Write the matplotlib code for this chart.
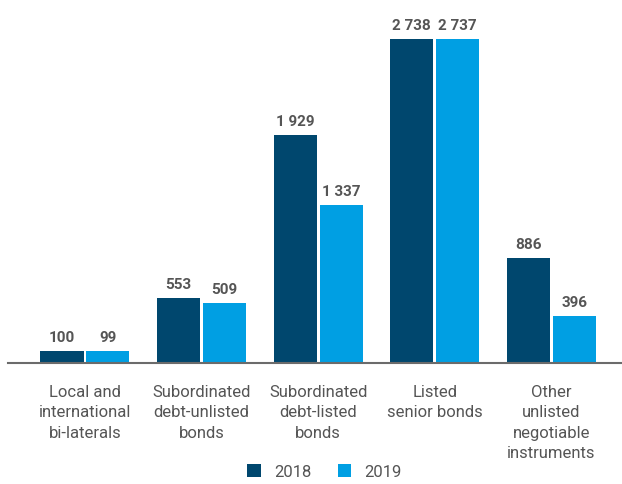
import matplotlib
matplotlib.use("Agg")
import matplotlib.pyplot as plt
import numpy as np

categories = ["Local and\ninternational\nbi-laterals",
              "Subordinated\ndebt-unlisted\nbonds",
              "Subordinated\ndebt-listed\nbonds",
              "Listed\nsenior bonds",
              "Other\nunlisted\nnegotiable\ninstruments"]
values_2018 = [100, 553, 1929, 2738, 886]
values_2019 = [99, 509, 1337, 2737, 396]
series_names = ["2018", "2019"]
colors = ["#00476E", "#009FE3"]
text_color = "#555555"

plt.rcParams['font.family'] = ['Roboto', 'DejaVu Sans']

W, H = 622, 485
fig = plt.figure(figsize=(W/100, H/100), dpi=100)
ax_left, ax_right = 8, 622
ax_bottom, ax_top = 364, 10
ax = fig.add_axes([ax_left/W, (H-ax_bottom)/H, (ax_right-ax_left)/W, (ax_bottom-ax_top)/H])

x = np.arange(len(categories))
width = 0.369
offset = 0.197
px_per_unit = 324/2738
ax.set_ylim(0, (ax_bottom-ax_top)/px_per_unit)
ax.set_xlim(-0.66, 4.605)

def fmt(v):
    return f"{v:,}".replace(",", " ")

for vals, off, col, name in zip([values_2018, values_2019], [-offset, offset], colors, series_names):
    bars = ax.bar(x + off, vals, width, color=col, label=name)
    for xi, v in zip(x + off, vals):
        ax.annotate(fmt(v), (xi, v), xytext=(0, 5), textcoords="offset points",
                    ha="center", va="bottom", fontsize=11, fontweight="bold",
                    color=text_color, annotation_clip=False)

for s in ["top", "right", "left"]:
    ax.spines[s].set_visible(False)
ax.spines["bottom"].set_color("#6b6b6b")
ax.spines["bottom"].set_linewidth(1.5)
ax.set_yticks([])
ax.set_xticks(x)
ax.set_xticklabels(categories, fontsize=12, color=text_color, linespacing=1.45)
ax.tick_params(axis="x", length=0, pad=15)

fig.legend(loc="lower center", bbox_to_anchor=(0.522, 0.003), ncol=2, frameon=False,
           fontsize=12, labelcolor=text_color, handlelength=0.8, handleheight=0.8,
           columnspacing=1.6, handletextpad=0.8, borderpad=0.2, borderaxespad=0.0)

fig.savefig("out.png", dpi=100)
